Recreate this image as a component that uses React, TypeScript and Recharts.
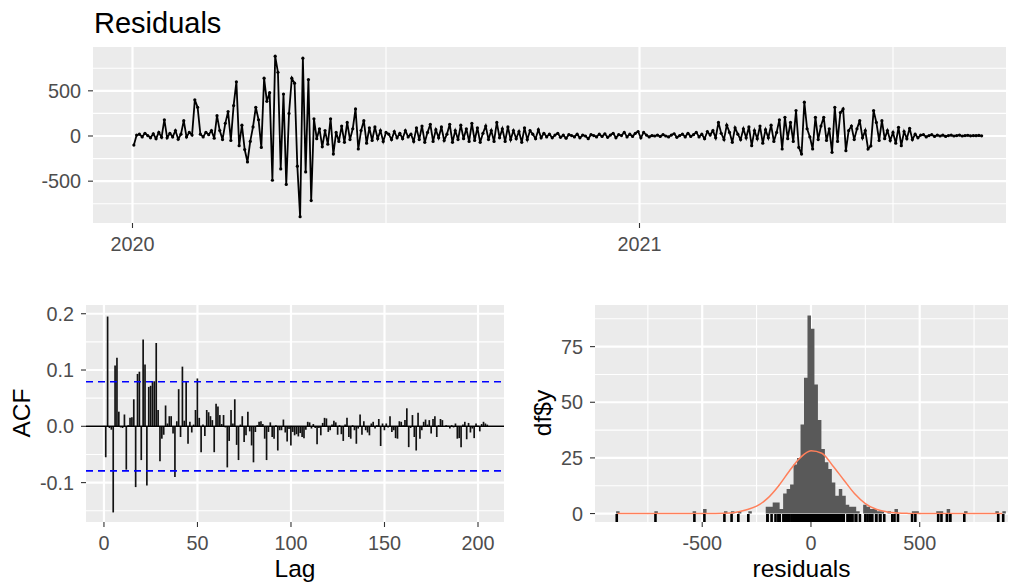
import {
  ComposedChart,
  LineChart,
  Line,
  Bar,
  Area,
  Scatter,
  XAxis,
  YAxis,
  CartesianGrid,
  ReferenceLine,
} from "recharts";

const FONT = '"Liberation Sans", Arial, sans-serif';
const PANEL = "#EBEBEB";

// residuals, one reading every 2 days from early Jan 2020
const residualStartDay = 1;
const residualStepDays = 2;
const residuals = [
  -100, 10, 20, -10, 30, 5, -20, 25, -30, 40,
  -15, 180, -20, 30, -10, 60, -35, 20, 170, -10,
  40, 10, 400, 318, 20, -10, 40, 15, 60, -25,
  225, 60, -40, 140, 270, -50, 337, 600, -107, 120,
  -150, -288, -60, 100, 318, 180, -126, 640, 384, 480,
  -490, 884, 705, -365, 465, -536, 250, 640, 585, -334,
  -893, 861, -398, 625, -715, 190, -30, 80, -120, 60,
  -90, 190, -200, 40, -60, 110, -70, 150, -40, 80,
  300, -144, 60, 170, -80, 90, -50, 100, -30, 60,
  -60, 40, 20, -40, 50, -20, 30, -30, 60, -10,
  20, -60, 90, -40, 110, -70, 40, 130, -60, 70,
  -20, 100, -50, 20, 130, -70, 60, -40, 120, -30,
  80, -60, 140, -50, 90, -70, 30, 110, -40, 60,
  -60, 150, -20, 80, -60, 100, -40, 60, -30, 50,
  -70, 90, -40, 60, 20, -30, 70, -20, 30,
  -10, 20, -20, 10, 30, -15, 10, -25, 15, 5, -10,
  20, -20, 10, 0, -30, 15, 5, -10, 20, -5,
  25, -15, 10, 30, -20, 15, 5, 40, -10, 20,
  -5, 30, 50, -20, 40, 10, -10, 5, 0, 10,
  -5, 15, 0, -10, 10, 25, -15, 5, 20, -10,
  30, -5, 15, 40, -10, 20,
  -30, 50, 10, 60,
  -20, 150, 30, -40, 120, 40, -70, 90, 20, -40,
  80, -20, 100, -107, 60, -30, 110, -80, 70, -20,
  120, -60, 40, 180,
  -144, 207, -30, 150, -60, 281, -126, -200, 374, 80,
  -10, -144, 207, -40, 110, 207, -50, 80, -181, 318,
  -60, 260, 300, -163, 60, 110, -40, 80, 170, -20,
  60, -144, -110, 281, 150, -50, 170, -30, 60, -50,
  40, -80, 96, -107, 50, -30, 85, -40, 20, -20,
  10, 15, -10, 5, 15, -5, 10, 0, 10, -5,
  5, 10, 0, 5, 10, 0, 5, 8, 2, 5, 3, 6, 2,
];

// ACF, lags 1..205
const acfValues = [
  -0.055, 0.195, -0.003, -0.006, -0.153, 0.108, 0.122, 0.026, -0.002, -0.003,
  0.021, -0.077, 0.002, 0.015, 0.016, 0.048, -0.108, 0.093, 0.097, -0.06,
  0.154, 0.11, -0.105, 0.07, 0.072, 0.08, 0.08, 0.148, 0.029, -0.062,
  -0.022, -0.015, 0.037, 0.005, 0.018, 0.018, -0.013, -0.09, 0.009, 0.066,
  -0.019, 0.106, 0.01, 0.08, -0.031, 0.008, -0.011, 0.003, 0.029, 0.085,
  0.015, -0.046, 0.003, -0.017, 0.029, 0.025, 0.018, 0.011, -0.046, 0.04,
  0.035, 0.02, 0.004, 0.02, -0.002, -0.073, -0.026, 0.029, 0.005, 0.048,
  -0.033, -0.06, 0.003, 0.018, -0.028, -0.016, 0.026, -0.009, -0.034, -0.064,
  -0.01, 0.002, 0.008, 0.009, 0.004, -0.022, -0.06, -0.01, 0.007, -0.019,
  -0.022, 0.002, -0.043, -0.007, -0.007, 0.012, -0.011, -0.027, -0.005, -0.034,
  -0.01, -0.016, -0.014, -0.018, -0.012, -0.019, -0.021, -0.006, 0.008, 0.007,
  -0.004, 0.004, -0.003, -0.032, -0.003, -0.016, 0.006, 0.015, 0.014, -0.01,
  -0.007, 0.003, 0.01, 0.007, -0.015, 0.002, -0.014, -0.026, 0.003, 0.015,
  -0.019, -0.022, 0.002, -0.007, -0.031, -0.004, 0.021, -0.015, 0.009, -0.007,
  -0.011, -0.016, 0.005, 0.008, -0.004, 0.002, 0.013, -0.035, 0.005, -0.007,
  0.005, -0.002, 0.018, -0.01, -0.007, -0.021, -0.022, 0.009, 0.008, 0.002,
  0.011, 0.032, -0.037, -0.003, 0.02, -0.019, -0.043, 0.024, -0.022, -0.007,
  0.008, 0.012, 0.003, 0.011, -0.013, 0.013, 0.018, -0.019, 0.002, 0.013,
  0.011, -0.001, 0.002, 0.001, -0.004, 0.002, -0.002, 0.005, -0.022, -0.021,
  -0.037, 0.003, 0.008, -0.023, 0.006, -0.011, -0.004, -0.021, 0.005, 0.001,
  -0.009, 0.004, 0.008, 0.005, 0.003,
];
const acfLimit = 0.0792;

// histogram of residuals: bins of width 16 starting at -896
const histStart = -896;
const histBinWidth = 16;
const histCounts = [
  1, 0, 0, 0, 0, 0, 0, 0, 0, 0,
  0, 1, 0, 0, 0, 0, 0, 0, 0, 0,
  0, 0, 1, 0, 0, 2, 0, 0, 0, 0,
  0, 1, 0, 1, 0, 1, 0, 0, 1, 0,
  0, 0, 0, 3, 3, 5, 5, 2, 9, 11,
  13, 22, 25, 40, 61, 89, 83, 58, 42, 29,
  23, 20, 14, 8, 11, 8, 4, 3, 3, 1,
  0, 4, 3, 2, 2, 1, 1, 0, 1, 0,
  2, 0, 0, 0, 0, 1, 1, 0, 0, 0,
  0, 0, 1, 1, 0, 2, 0, 0, 0, 0,
  1, 0, 0, 0, 0, 0, 0, 0, 0, 1,
  0, 1,
];

// fitted normal curve
const normalX = [
  -890, -800, -700, -600, -500, -450, -400, -350, -300, -250, -200, -150, -100, -50,
  0, 50, 100, 150, 200, 250, 300, 350, 400, 450, 500, 600, 700, 800, 880,
];
const normalY = [
  0, 0, 0, 0, 0, 0.05, 0.15, 0.5, 1.6, 3.3, 6.8, 12.3, 19.0, 25.0,
  28.2, 27.1, 21.5, 15.2, 9.0, 4.5, 1.9, 0.74, 0.23, 0.06, 0, 0, 0, 0, 0,
];

const yearTicks = [2020, 2021];
const yearMinor = [2020.5, 2021.5];
const residTicks = [-500, 0, 500];
const residMinor = [-750, -250, 250, 750];
const acfTicks = [-0.1, 0, 0.1, 0.2];
const acfMinor = [-0.15, -0.05, 0.05, 0.15];
const lagTicks = [0, 50, 100, 150, 200];
const countTicks = [0, 25, 50, 75];
const countMinor = [12.5, 37.5, 62.5, 87.5];

const residualData = residuals.map((v, i) => ({
  t: 2020 + (residualStartDay + i * residualStepDays) / 366,
  v,
}));
const acfData = acfValues.map((acf, i) => ({ lag: i + 1, acf }));
const histData = [
  ...histCounts.map((n, i) => ({ x: histStart + i * histBinWidth, n })),
  { x: histStart + histCounts.length * histBinWidth, n: 0 },
];
const normalData = normalX.map((x, i) => ({ x, d: normalY[i] }));
const rugData = residuals.map((x) => ({ x, y: -3.8 }));

const tickText = { fontSize: 19.8, fill: "#4D4D4D", fontFamily: FONT };
const tickMark = { stroke: "#333333", strokeWidth: 1.1 };

function RugTick(props: any) {
  const { cx, cy } = props;
  if (cx == null || cy == null) return null;
  return <line x1={cx} x2={cx} y1={cy - 8} y2={cy} stroke="#000" strokeWidth={2.6} />;
}

export default function App() {
  return (
    <div style={{ position: "absolute", left: 0, top: 0, width: 1016, height: 583, background: "#fff" }}>
      {/* time plot */}
      <div style={{ position: "absolute", left: 0, top: 0 }}>
        <LineChart width={1016} height={260} data={residualData} margin={{ top: 47, right: 10, bottom: 7, left: 0 }}>
          <CartesianGrid fill={PANEL} stroke="#fff" strokeWidth={1.1} horizontalValues={residMinor} verticalValues={yearMinor} />
          <CartesianGrid stroke="#fff" strokeWidth={2.2} horizontalValues={residTicks} verticalValues={yearTicks} />
          <XAxis
            type="number"
            dataKey="t"
            domain={[2019.9221, 2021.7229]}
            allowDataOverflow
            ticks={yearTicks}
            interval={0}
            tickFormatter={(v: number) => String(Math.round(v))}
            height={30}
            axisLine={false}
            tickLine={tickMark}
            tickSize={5}
            tickMargin={9}
            tick={tickText}
          />
          <YAxis
            type="number"
            domain={[-963, 985]}
            allowDataOverflow
            ticks={residTicks}
            interval={0}
            width={93}
            axisLine={false}
            tickLine={tickMark}
            tickSize={5}
            tickMargin={7}
            tick={tickText}
          />
          <Line
            dataKey="v"
            stroke="#000"
            strokeWidth={1.8}
            dot={{ r: 1.6, fill: "#000", stroke: "none" }}
            activeDot={false}
            isAnimationActive={false}
            type="linear"
          />
        </LineChart>
      </div>

      {/* ACF */}
      <div style={{ position: "absolute", left: 0, top: 290 }}>
        <ComposedChart width={510} height={293} data={acfData} margin={{ top: 15, right: 6, bottom: 31, left: 0 }}>
          <CartesianGrid fill={PANEL} stroke="#fff" strokeWidth={1.1} horizontalValues={acfMinor} vertical={false} />
          <CartesianGrid stroke="#fff" strokeWidth={2.2} horizontalValues={acfTicks} verticalValues={lagTicks} />
          <XAxis
            type="number"
            dataKey="lag"
            domain={[-9.6, 213.9]}
            allowDataOverflow
            ticks={lagTicks}
            interval={0}
            height={30}
            axisLine={false}
            tickLine={tickMark}
            tickSize={5}
            tickMargin={9}
            tick={tickText}
          />
          <YAxis
            type="number"
            domain={[-0.17, 0.2155]}
            allowDataOverflow
            ticks={acfTicks}
            interval={0}
            tickFormatter={(v: number) => v.toFixed(1)}
            width={86}
            axisLine={false}
            tickLine={tickMark}
            tickSize={5}
            tickMargin={7}
            tick={tickText}
          />
          <Bar dataKey="acf" fill="#111" barSize={2} isAnimationActive={false} />
          <ReferenceLine y={0} stroke="#000" strokeWidth={1.5} />
          <ReferenceLine y={acfLimit} stroke="#0000FF" strokeWidth={1.6} strokeDasharray="7 5" />
          <ReferenceLine y={-acfLimit} stroke="#0000FF" strokeWidth={1.6} strokeDasharray="7 5" />
        </ComposedChart>
      </div>

      {/* histogram */}
      <div style={{ position: "absolute", left: 510, top: 290 }}>
        <ComposedChart width={506} height={293} margin={{ top: 15, right: 8, bottom: 31, left: 0 }}>
          <CartesianGrid fill={PANEL} stroke="#fff" strokeWidth={1.1} horizontalValues={countMinor} verticalValues={residMinor} />
          <CartesianGrid stroke="#fff" strokeWidth={2.2} horizontalValues={countTicks} verticalValues={residTicks} />
          <XAxis
            type="number"
            dataKey="x"
            domain={[-993, 906]}
            allowDataOverflow
            ticks={residTicks}
            interval={0}
            height={30}
            axisLine={false}
            tickLine={tickMark}
            tickSize={5}
            tickMargin={9}
            tick={tickText}
          />
          <YAxis
            type="number"
            domain={[-3.8, 93.7]}
            allowDataOverflow
            ticks={countTicks}
            interval={0}
            width={85}
            axisLine={false}
            tickLine={tickMark}
            tickSize={5}
            tickMargin={7}
            tick={tickText}
          />
          <Area
            data={histData}
            dataKey="n"
            type="stepAfter"
            fill="#595959"
            fillOpacity={1}
            stroke="none"
            baseValue={0}
            activeDot={false}
            isAnimationActive={false}
          />
          <Line
            data={normalData}
            dataKey="d"
            type="monotone"
            stroke="#FF7F5A"
            strokeWidth={1.5}
            dot={false}
            activeDot={false}
            isAnimationActive={false}
          />
          <Scatter data={rugData} dataKey="y" shape={RugTick} isAnimationActive={false} />
        </ComposedChart>
      </div>

      {/* titles */}
      <svg width={1016} height={583} style={{ position: "absolute", left: 0, top: 0, pointerEvents: "none" }}>
        <text x={94} y={33} fontSize={29} fontFamily={FONT} fill="#000">Residuals</text>
        <text x={295} y={577} fontSize={24.5} fontFamily={FONT} fill="#000" textAnchor="middle">Lag</text>
        <text x={801.5} y={577} fontSize={24.5} fontFamily={FONT} fill="#000" textAnchor="middle">residuals</text>
        <text x={30} y={413} fontSize={24.5} fontFamily={FONT} fill="#000" textAnchor="middle" transform="rotate(-90 30 413)">ACF</text>
        <text x={551} y={413} fontSize={24.5} fontFamily={FONT} fill="#000" textAnchor="middle" transform="rotate(-90 551 413)">df$y</text>
      </svg>
    </div>
  );
}
